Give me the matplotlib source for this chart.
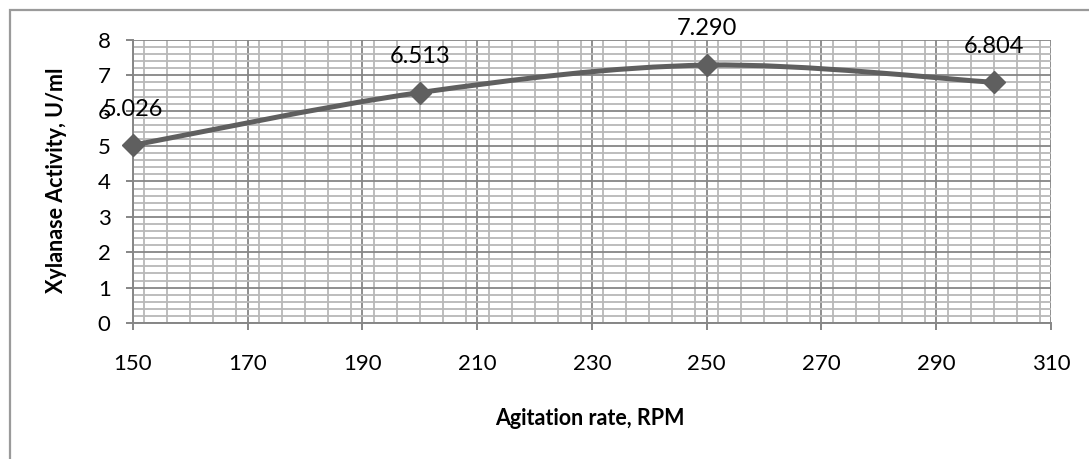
import matplotlib
matplotlib.use("Agg")
import matplotlib.pyplot as plt
import numpy as np
from matplotlib.path import Path
from matplotlib.patches import PathPatch, Rectangle
from matplotlib.ticker import MultipleLocator

plt.rcParams['font.family'] = ['Lato', 'DejaVu Sans']

# data
rpm = [150, 200, 250, 300]
activity = [5.026, 6.513, 7.290, 6.804]
value_labels = ["5.026", "6.513", "7.290", "6.804"]

x_ticks = [150, 170, 190, 210, 230, 250, 270, 290, 310]
y_ticks = [0, 1, 2, 3, 4, 5, 6, 7, 8]

line_color = "#5f5f5f"
fs = 16

fig = plt.figure(figsize=(10.89, 4.59), dpi=100)
ax = fig.add_axes([0.1221, 0.2963, 0.8430, 0.6166])

# outer chart frame (Excel style)
fig.patches.append(Rectangle((10 / 1089, -0.05), 1.2, 1 - 10 / 459 + 0.05,
                             transform=fig.transFigure, fill=False,
                             edgecolor="#9a9a9a", linewidth=1.6))

ax.set_xlim(150, 310)
ax.set_ylim(0, 8)
ax.set_xticks(x_ticks)
ax.set_yticks(y_ticks)
ax.xaxis.set_minor_locator(MultipleLocator(4))
ax.yaxis.set_minor_locator(MultipleLocator(0.2))
ax.grid(which="minor", color="#b8b8b8", linewidth=1.3)
ax.grid(which="major", color="#868686", linewidth=1.3)
ax.set_axisbelow(True)

for side in ["top", "right"]:
    ax.spines[side].set_visible(False)
for side in ["left", "bottom"]:
    ax.spines[side].set_color("#868686")
    ax.spines[side].set_linewidth(1.4)

ax.tick_params(which="major", length=5, width=1.4, color="#868686",
               labelsize=fs, labelcolor="black")
ax.tick_params(axis="x", pad=17)
ax.tick_params(axis="y", pad=11)
ax.tick_params(which="minor", length=0)

# smoothed line, Catmull-Rom style like Excel's smooth line
pts = np.column_stack([rpm, activity])
ext = np.vstack([pts[0], pts, pts[-1]])
verts = [tuple(pts[0])]
codes = [Path.MOVETO]
for i in range(len(pts) - 1):
    p0, p1, p2, p3 = ext[i], ext[i + 1], ext[i + 2], ext[i + 3]
    c1 = p1 + (p2 - p0) / 6
    c2 = p2 - (p3 - p1) / 6
    verts += [tuple(c1), tuple(c2), tuple(p2)]
    codes += [Path.CURVE4] * 3
ax.add_patch(PathPatch(Path(verts, codes), facecolor="none",
                       edgecolor=line_color, linewidth=3.6,
                       capstyle="round", joinstyle="round", zorder=3))
ax.plot(rpm, activity, linestyle="none", marker="D", markersize=11,
        color=line_color, zorder=4, clip_on=False)

for x, y, s in zip(rpm, activity, value_labels):
    ax.annotate(s, (x, y), xytext=(0, 26), textcoords="offset points",
                ha="center", va="center", fontsize=fs + 1, color="black",
                annotation_clip=False, zorder=5)

ax.set_xlabel("Agitation rate, RPM", fontsize=fs - 0.5, fontweight="bold")
ax.set_ylabel("Xylanase Activity, U/ml", fontsize=fs - 0.5, fontweight="bold")
ax.xaxis.set_label_coords(0.498, -0.30)
ax.yaxis.set_label_coords(-0.072, 0.505)

fig.savefig("out.png", dpi=100)
